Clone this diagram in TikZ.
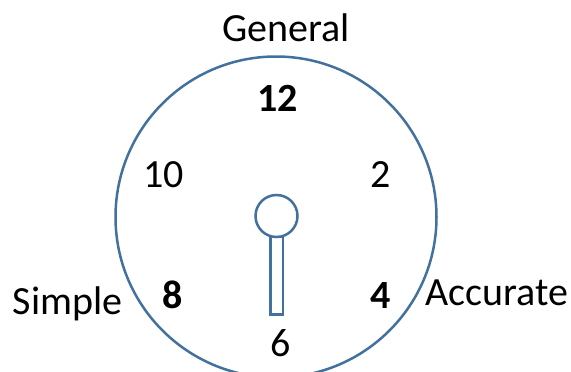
\documentclass[tikz,border=0pt]{standalone}
\usepackage{fontspec}
\setmainfont{Carlito}
\definecolor{dialblue}{HTML}{41719C}
\tikzset{
  lbl/.style={anchor=base, inner sep=0pt, font=\fontsize{40}{45}\selectfont},
  num/.style={lbl},
  bnum/.style={lbl, font=\fontsize{40}{45}\selectfont\bfseries},
  ring/.style={draw=dialblue, line width=2.5pt}
}
\begin{document}
\begin{tikzpicture}[x=1pt,y=-1pt]
\useasboundingbox (0,0) rectangle (571,372);
\draw[ring] (276,217) circle[radius=160.5];
\node[ring, rectangle, minimum width=12.5pt, minimum height=78pt, inner sep=0pt, anchor=north] (hand) at (276.5,235) {};
\node[ring, circle, fill=white, minimum size=42pt, inner sep=0pt] (hub) at (276.5,216) {};
\node[lbl] (general) at (286,41.7) {General};
\node[lbl] (accurate) at (496.7,305.7) {Accurate};
\node[lbl] (simple) at (67.5,314) {Simple};
\node[bnum] (n12) at (277.5,111.7) {12};
\node[num] (n10) at (163.7,187.3) {10};
\node[num] (n2) at (381,187.3) {2};
\node[bnum] (n8) at (172.8,308) {8};
\node[bnum] (n4) at (380.3,308) {4};
\node[num] (n6) at (281,356.7) {6};
\end{tikzpicture}
\end{document}
